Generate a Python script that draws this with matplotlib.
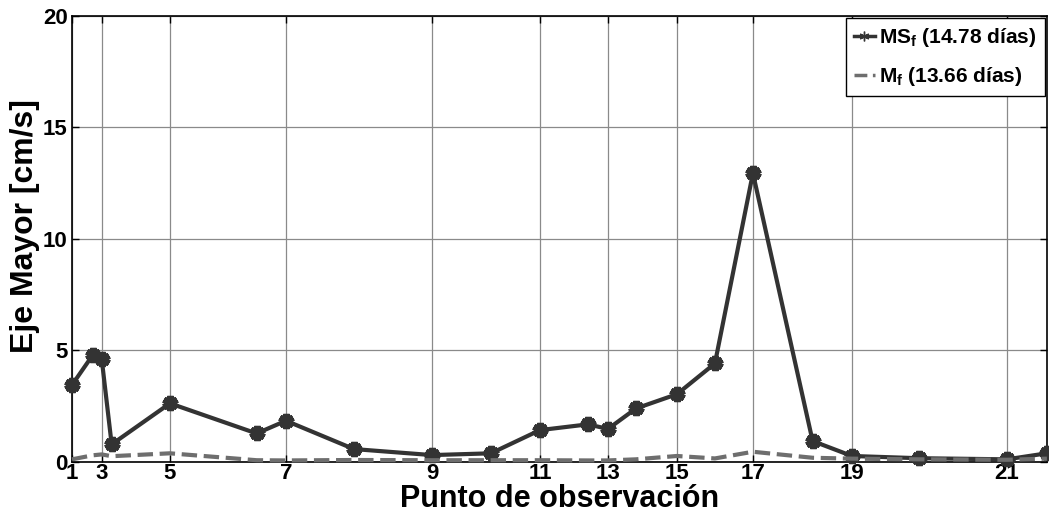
import matplotlib
matplotlib.use("Agg")
import matplotlib.pyplot as plt
import numpy as np

plt.rcParams.update({
    "font.family": "Liberation Sans",
    "font.weight": "bold",
    "axes.labelweight": "bold",
    "mathtext.fontset": "custom",
    "mathtext.rm": "Liberation Sans:bold",
    "mathtext.it": "Liberation Sans:bold",
    "mathtext.bf": "Liberation Sans:bold",
    "mathtext.default": "bf",
})

# posicion de cada punto a lo largo del transecto (unidades relativas)
dist = [0.0, 2.07, 2.97, 3.97, 9.8, 18.47, 21.4, 28.2, 36.0, 41.9, 46.8,
        51.63, 53.6, 56.4, 60.5, 64.3, 68.1, 74.07, 78.0, 84.7, 93.5, 97.5]
puntos = np.arange(1, 23)

# eje mayor de la elipse de marea [cm/s]
ms_f = [3.45, 4.79, 4.64, 0.79, 2.63, 1.28, 1.85, 0.58, 0.31, 0.39, 1.43,
        1.69, 1.48, 2.40, 3.04, 4.42, 12.95, 0.94, 0.27, 0.17, 0.12, 0.39]
m_f = [0.12, 0.30, 0.34, 0.26, 0.39, 0.08, 0.07, 0.09, 0.08, 0.08, 0.08,
       0.07, 0.07, 0.12, 0.27, 0.16, 0.46, 0.19, 0.15, 0.12, 0.10, 0.15]

fig = plt.figure(figsize=(10.49, 5.15), dpi=100)
ax = fig.add_axes([0.0686, 0.1029, 0.9294, 0.8661])

ax.plot(dist, ms_f, color="#333333", lw=3, marker=(6, 2, 0), ms=11, mew=4.5,
        label="MS$_f$ (14.78 días)", clip_on=False, zorder=3)
ax.plot(dist, m_f, color="#6e6e6e", lw=3, ls="--",
        label="M$_f$ (13.66 días)", clip_on=False, zorder=4)

ax.set_xlim(dist[0], dist[-1])
ax.set_ylim(0, 20)
ax.set_yticks([0, 5, 10, 15, 20])
ax.set_xticks([dist[i - 1] for i in puntos[::2]])
ax.set_xticklabels([str(i) for i in puntos[::2]])
ax.tick_params(direction="in", labelsize=16, top=True, right=True,
               length=5, width=1)
ax.tick_params(axis="x", pad=1)
ax.tick_params(axis="y", pad=3)
ax.grid(True, color="#8a8a8a", lw=0.9)
for s in ax.spines.values():
    s.set_linewidth(1.2)

ax.set_xlabel("Punto de observación", fontsize=22, labelpad=0)
ax.set_ylabel("Eje Mayor [cm/s]", fontsize=23)
ax.yaxis.set_label_coords(-0.033, 0.529)

leg = ax.legend(loc="upper right", fontsize=15, handlelength=1.0,
                handletextpad=0.2, borderpad=0.4, labelspacing=0.75,
                fancybox=False, framealpha=1, edgecolor="black",
                borderaxespad=0.1)
leg.get_frame().set_linewidth(1.0)
for h in leg.legend_handles:
    h.set_linewidth(2.5)
    h.set_markersize(7)
    h.set_markeredgewidth(1)

fig.savefig("out.png", dpi=100)
